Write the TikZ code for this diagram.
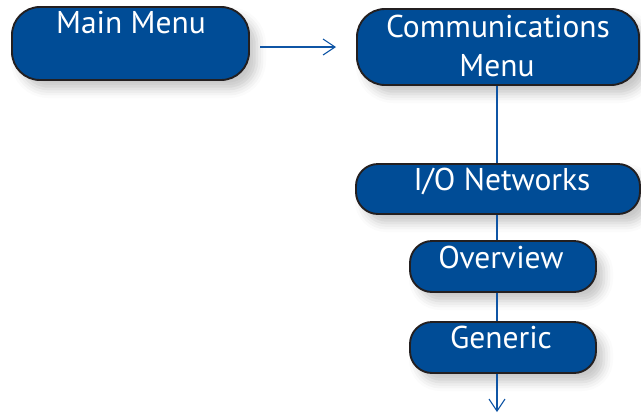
\documentclass[tikz,border=0pt]{standalone}
\usepackage{fontspec}
\setmainfont{PT Sans}
\usetikzlibrary{shadows.blur,arrows.meta}
\definecolor{boxblue}{RGB}{0,76,150}
\definecolor{linkblue}{RGB}{15,85,165}
\definecolor{edge}{RGB}{35,31,32}
\tikzset{
  menubox/.style={draw=edge, line width=1.9pt, fill=boxblue, rounded corners=#1, inner sep=0pt,
    blur shadow={shadow xshift=8pt, shadow yshift=-9pt, shadow blur radius=9pt, shadow opacity=22}},
  menubox/.default=28pt,
  menutext/.style={text=white, font=\fontsize{31.5}{36}\selectfont, anchor=base, inner sep=0pt},
  link/.style={draw=linkblue, line width=1.1pt},
  opentip/.style={-{Straight Barb[length=12pt,width=16pt,line width=1.1pt]}}
}
\begin{document}
\begin{tikzpicture}[x=1pt,y=1pt]
\useasboundingbox (0,0) rectangle (641,-416);
\node[menubox, minimum width=237pt, minimum height=73pt] (main) at (130.5,-43.5) {};
\node[menubox, minimum width=282pt, minimum height=76pt] (comm) at (498,-47) {};
\node[menubox=22pt, minimum width=284pt, minimum height=50pt] (io) at (498,-189) {};
\node[menubox=22pt, minimum width=186pt, minimum height=51pt] (ov) at (503,-266.5) {};
\node[menubox=22pt, minimum width=186pt, minimum height=51pt] (gen) at (503,-347.5) {};
\node[menutext] (tmain) at (131,-33) {Main Menu};
\node[menutext] (tcomm) at (498,-37) {Communications};
\node[menutext] (tcomm2) at (497,-76) {Menu};
\node[menutext] (tio) at (502,-190) {I/O Networks};
\node[menutext] (tov) at (501,-268) {Overview};
\node[menutext] (tgen) at (501,-348) {Generic};
\coordinate (a1) at (260,-47);
\coordinate (a2) at (336,-47);
\coordinate (v2) at (497,-412);
\draw[link, opentip] (a1) -- (a2);
\draw[link] (comm.south -| 497,0) -- (io.north -| 497,0);
\draw[link] (io.south -| 497,0) -- (ov.north -| 497,0);
\draw[link] (ov.south -| 497,0) -- (gen.north -| 497,0);
\draw[link, opentip] (gen.south -| 497,0) -- (v2);
\end{tikzpicture}
\end{document}
